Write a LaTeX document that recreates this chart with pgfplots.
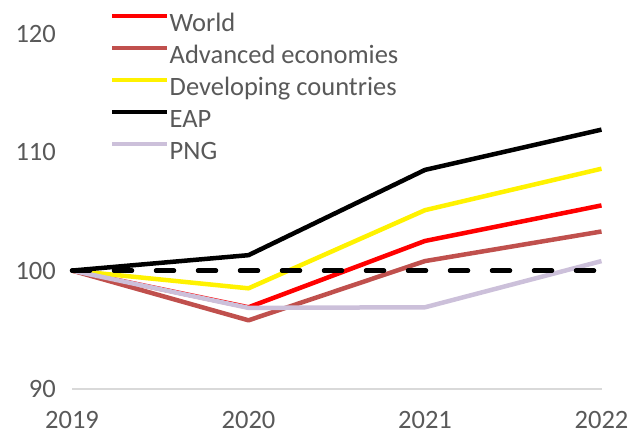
\documentclass[border=0pt]{standalone}
\usepackage{fontspec}
\setmainfont{Carlito}
\usepackage{pgfplots}
\pgfplotsset{compat=1.18}
\definecolor{txtgray}{RGB}{89,89,89}
\definecolor{advred}{RGB}{192,80,77}
\definecolor{pnglav}{RGB}{204,192,218}
\definecolor{axgray}{RGB}{217,217,217}
\begin{document}
\begin{tikzpicture}
\path[use as bounding box] (-72bp,-45bp) rectangle (557bp,389bp);
\begin{axis}[
  scale only axis,
  width=529.5bp, height=355.3bp,
  xmin=2019, xmax=2022, ymin=90, ymax=120,
  xtick={2019,2020,2021,2022},
  ytick={90,100,110,120},
  xticklabel style={/pgf/number format/1000 sep={}},
  /pgf/number format/assume math mode=true,
  axis x line*=bottom,
  axis y line*=left,
  x axis line style={axgray, line width=1.2bp, -},
  y axis line style={draw=none, -},
  major tick length=0pt,
  tick style={draw=none},
  tick label style={font=\fontsize{26.5bp}{31bp}\selectfont, text=txtgray, inner sep=0pt},
  xticklabel style={anchor=north, yshift=-22bp},
  yticklabel style={anchor=east, xshift=-16bp},
  every axis plot/.append style={line width=4.5bp, line join=round},
  legend style={draw=none, fill=none, at={(0.0718,1.06)}, anchor=north west,
    font=\fontsize{26.5bp}{31bp}\selectfont, text=txtgray, inner sep=0pt,
    nodes={inner sep=0pt, text height=19bp, text depth=5bp}, row sep=8bp},
  /tikz/every even column/.append style={column sep=5bp},
  legend cell align=left,
  legend image code/.code={\draw[#1] (0bp,8.5bp) -- (55bp,8.5bp);},
  clip=false,
]
\addplot[red] coordinates {(2019,100) (2020,96.9) (2021,102.5) (2022,105.5)};
\addlegendentry{World}
\addplot[advred] coordinates {(2019,100) (2020,95.8) (2021,100.8) (2022,103.3)};
\addlegendentry{Advanced economies}
\addplot[yellow] coordinates {(2019,100) (2020,98.5) (2021,105.1) (2022,108.6)};
\addlegendentry{Developing countries}
\addplot[black] coordinates {(2019,100) (2020,101.3) (2021,108.5) (2022,111.9)};
\addlegendentry{EAP}
\addplot[pnglav] coordinates {(2019,100) (2020,96.85) (2021,96.9) (2022,100.8)};
\addlegendentry{PNG}
\addplot[black, line cap=round, dash pattern=on 18bp off 24bp, forget plot] coordinates {(2019,100) (2020,100) (2021,100) (2022,100)};
\end{axis}
\end{tikzpicture}
\end{document}
